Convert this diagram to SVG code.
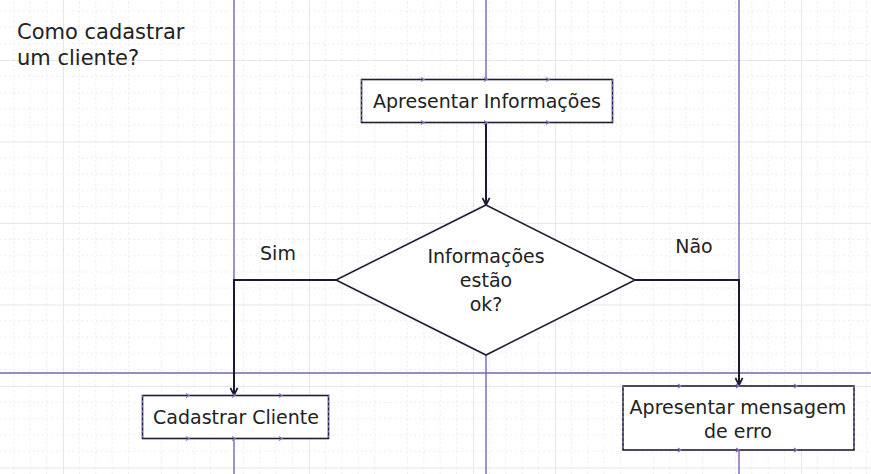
<svg xmlns="http://www.w3.org/2000/svg" width="871" height="474" viewBox="0 0 871 474">
  <defs>
    <pattern id="grid" patternUnits="userSpaceOnUse" width="82" height="81.5" patternTransform="translate(63,60)">
      <g stroke="#e6e6ea" stroke-width="1" stroke-dasharray="1.5 3.2" fill="none">
        <line x1="16.4" y1="0" x2="16.4" y2="81.5"/>
        <line x1="32.8" y1="0" x2="32.8" y2="81.5"/>
        <line x1="49.2" y1="0" x2="49.2" y2="81.5"/>
        <line x1="65.6" y1="0" x2="65.6" y2="81.5"/>
        <line x1="0" y1="16.3" x2="82" y2="16.3"/>
        <line x1="0" y1="32.6" x2="82" y2="32.6"/>
        <line x1="0" y1="48.9" x2="82" y2="48.9"/>
        <line x1="0" y1="65.2" x2="82" y2="65.2"/>
      </g>
      <g stroke="#e6e6ec" stroke-width="1" fill="none">
        <line x1="0.5" y1="0" x2="0.5" y2="81.5"/>
        <line x1="0" y1="0.5" x2="82" y2="0.5"/>
      </g>
    </pattern>
    <marker id="arrow" viewBox="0 0 10 10" refX="9" refY="5" markerWidth="9" markerHeight="9" markerUnits="userSpaceOnUse" orient="auto">
      <path d="M1,1 L9,5 L1,9" fill="none" stroke="#1c1830" stroke-width="2"/>
    </marker>
  </defs>
  <style>
    .lbl { font-family: "DejaVu Sans", "Noto Sans", sans-serif; font-size: 19px; fill: #222; }
    .title { font-family: "DejaVu Sans", "Noto Sans", sans-serif; font-size: 21px; fill: #222; }
    .box { fill: #fff; stroke: #221c32; stroke-width: 1.6; }
    .lane { stroke: #7d62b0; stroke-width: 1.4; fill: none; }
    .conn { stroke: #1c1830; stroke-width: 2; fill: none; }
    .tick { stroke: #8d74c8; stroke-width: 1.2; fill: none; }
  </style>

  <rect width="871" height="474" fill="#fff"/>
  <rect width="871" height="474" fill="url(#grid)"/>

  <g id="lanes">
    <line class="lane" x1="234" y1="0" x2="234" y2="474"/>
    <line class="lane" x1="486" y1="0" x2="486" y2="474"/>
    <line class="lane" x1="739" y1="0" x2="739" y2="474"/>
    <line class="lane" x1="0" y1="373" x2="871" y2="373"/>
  </g>

  <g id="title">
    <text class="title" x="17" y="39">Como cadastrar</text>
    <text class="title" x="17" y="65">um cliente?</text>
  </g>

  <g id="connectors">
    <line class="conn" x1="486" y1="123" x2="486" y2="205" marker-end="url(#arrow)"/>
    <polyline class="conn" points="336,280 234,280 234,395" marker-end="url(#arrow)"/>
    <polyline class="conn" points="635,280 739,280 739,385" marker-end="url(#arrow)"/>
    <text class="lbl" x="278" y="260" text-anchor="middle">Sim</text>
    <text class="lbl" x="694" y="253" text-anchor="middle">Não</text>
  </g>

  <g id="apresentar-informacoes">
    <rect class="box" x="361.5" y="79.5" width="251" height="43"/>
    <path class="tick" d="M361.5,79.5 v43 M612.5,79.5 v43" stroke-dasharray="2 3"/>
    <path class="tick" d="M421,77.5 l3,2 l-3,2 M484,77.5 l3,2 l-3,2 M546,77.5 l3,2 l-3,2 M421,120.5 l3,2 l-3,2 M484,120.5 l3,2 l-3,2 M546,120.5 l3,2 l-3,2"/>
    <text class="lbl" x="487" y="108" text-anchor="middle">Apresentar Informações</text>
  </g>

  <g id="informacoes-ok">
    <polygon class="box" points="486,205 635,280 486,355 336,280"/>
    <text class="lbl" x="486" y="263" text-anchor="middle">Informações</text>
    <text class="lbl" x="486" y="287" text-anchor="middle">estão</text>
    <text class="lbl" x="486" y="311" text-anchor="middle">ok?</text>
  </g>

  <g id="cadastrar-cliente">
    <rect class="box" x="142.5" y="395.5" width="186" height="43"/>
    <path class="tick" d="M142.5,395.5 v43 M328.5,395.5 v43" stroke-dasharray="2 3"/>
    <path class="tick" d="M186,393.5 l3,2 l-3,2 M232,393.5 l3,2 l-3,2 M279,393.5 l3,2 l-3,2 M186,436.5 l3,2 l-3,2 M232,436.5 l3,2 l-3,2 M279,436.5 l3,2 l-3,2"/>
    <text class="lbl" x="236" y="424" text-anchor="middle">Cadastrar Cliente</text>
  </g>

  <g id="apresentar-mensagem-erro">
    <rect class="box" x="623" y="386" width="231" height="64"/>
    <path class="tick" d="M623,386 v64 M854,386 v64" stroke-dasharray="2 3"/>
    <path class="tick" d="M678,384 l3,2 l-3,2 M736,384 l3,2 l-3,2 M794,384 l3,2 l-3,2 M678,448 l3,2 l-3,2 M736,448 l3,2 l-3,2 M794,448 l3,2 l-3,2"/>
    <text class="lbl" x="738" y="414" text-anchor="middle">Apresentar mensagem</text>
    <text class="lbl" x="738" y="438" text-anchor="middle">de erro</text>
  </g>
</svg>
